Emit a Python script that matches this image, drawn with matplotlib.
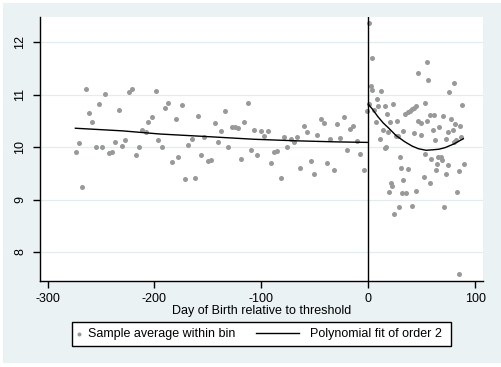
import numpy as np
import matplotlib.pyplot as plt
from matplotlib.patches import Rectangle

plt.rcParams['font.family'] = ['Liberation Sans', 'DejaVu Sans']
plt.rcParams['axes.unicode_minus'] = False

# bin averages, left of the threshold
left_x = [-273.7, -270.6, -267.5, -264.4, -261.3, -258.2, -255.0, -251.9, -249.4, -246.3,
          -242.3, -240.0, -236.7, -233.2, -230.1, -227.3, -223.9, -220.8, -217.6, -214.5,
          -212.0, -208.2, -205.8, -202.6, -198.9, -196.4, -193.0, -190.2, -187.1, -183.9,
          -180.2, -177.7, -174.6, -171.5, -168.9, -165.2, -162.1, -159.0, -156.2, -153.4,
          -149.7, -147.4, -143.4, -140.9, -137.5, -134.3, -131.5, -127.8, -124.7, -122.2,
          -119.1, -116.0, -112.5, -109.7, -107.2, -103.8, -100.4, -97.3, -94.1, -91.3,
          -88.2, -85.1, -81.9, -78.6, -75.8, -72.6, -69.8, -67.0, -63.6, -60.1,
          -57.1, -53.9, -50.5, -47.7, -44.5, -41.7, -38.6, -35.5, -32.4, -29.0,
          -26.5, -23.0, -20.2, -17.1, -14.0, -10.9, -7.5, -4.0, -1.5]
left_y = [9.90, 10.07, 9.24, 11.11, 10.65, 10.48, 10.00, 10.82, 10.01, 11.01,
          9.88, 9.91, 10.09, 10.71, 10.03, 10.14, 11.06, 11.11, 9.85, 10.00,
          10.33, 10.29, 10.47, 10.58, 11.07, 10.14, 10.01, 10.74, 10.85, 9.71,
          10.53, 9.81, 10.80, 9.40, 10.05, 10.16, 9.41, 10.60, 9.85, 10.20,
          9.74, 9.76, 10.46, 10.09, 10.30, 10.68, 10.00, 10.39, 10.39, 10.37,
          9.77, 10.47, 10.84, 9.95, 10.32, 9.85, 10.31, 10.22, 10.30, 9.70,
          9.90, 9.93, 9.41, 10.20, 10.00, 10.16, 10.10, 10.19, 9.61, 10.40,
          10.28, 9.74, 9.49, 10.24, 10.53, 10.46, 9.70, 10.16, 9.57, 10.44,
          10.18, 10.57, 9.95, 10.35, 10.41, 10.12, 9.87, 9.57, 10.69]

# bin averages, right of the threshold
right_x = [0.4, 0.9, 2.2, 3.2, 3.7, 5.3, 7.2, 8.4, 9.4, 10.7,
           11.9, 13.8, 15.2, 15.6, 16.5, 17.2, 18.1, 19.1, 20.3, 21.7,
           22.3, 22.8, 24.0, 26.0, 26.6, 28.1, 28.4, 29.6, 30.3, 31.2,
           32.2, 32.7, 34.6, 35.0, 36.9, 36.9, 39.0, 40.6, 40.9, 42.8,
           43.0, 44.3, 44.9, 46.2, 46.8, 49.3, 49.3, 51.8, 52.8, 53.3,
           54.6, 54.6, 56.1, 57.4, 57.7, 59.0, 60.6, 61.2, 62.7, 63.6,
           64.3, 64.9, 66.1, 68.0, 69.2, 70.2, 70.4, 72.4, 73.0, 74.6,
           74.3, 75.8, 77.6, 79.0, 80.5, 80.9, 80.2, 81.8, 83.4, 84.4,
           84.8, 86.1, 86.7, 87.9, 89.2]
right_y = [12.36, 10.83, 11.17, 11.69, 11.09, 10.71, 10.47, 10.92, 10.79, 10.16,
           11.07, 10.33, 9.98, 10.78, 10.00, 10.63, 10.28, 9.14, 10.47, 9.31,
           9.26, 10.82, 8.72, 10.22, 10.49, 10.21, 8.85, 9.82, 9.60, 9.13,
           10.31, 9.37, 10.64, 9.13, 9.58, 10.67, 10.69, 8.88, 10.72, 10.75,
           10.27, 9.16, 10.79, 10.49, 11.41, 10.46, 10.24, 9.43, 9.87, 10.84,
           11.63, 10.49, 11.28, 9.32, 10.62, 9.77, 10.33, 10.62, 10.14, 9.56,
           9.67, 9.82, 10.39, 9.81, 9.76, 10.60, 8.85, 10.15, 9.48, 9.66,
           10.29, 11.05, 10.54, 10.32, 11.22, 10.44, 10.09, 10.14, 9.14, 7.59,
           9.55, 10.41, 10.19, 10.81, 9.68]

# fitted curves
fit_left_x = [-274, -230, -195, -150, -107, -67, -30, -1]
fit_left_y = [10.36, 10.31, 10.25, 10.20, 10.15, 10.12, 10.10, 10.09]
fit_right_x = [0, 4, 9, 14, 18.7, 26, 34.3, 41, 46.8, 54, 60.8, 66, 71.8, 80, 88.9]
fit_right_y = [10.82, 10.72, 10.58, 10.46, 10.37, 10.22, 10.10, 10.02, 9.97, 9.94,
               9.95, 9.96, 9.99, 10.06, 10.16]

W, H = 501, 367
fig = plt.figure(figsize=(W / 100, H / 100), dpi=100)
fig.patch.set_facecolor('white')
bg = Rectangle((3 / W, 1 - 363 / H), 498 / W, 360 / H, transform=fig.transFigure,
               facecolor='#eaf2f3', edgecolor='none', zorder=-10)
fig.add_artist(bg)

ax = fig.add_axes([40 / W, 1 - 281 / H, 443 / W, 264.5 / H])
ax.set_zorder(1)
ax.set_facecolor('white')

pts_color = '#999999'
pts = ax.scatter(left_x + right_x, left_y + right_y, s=13, color=pts_color, linewidths=0,
                 zorder=3, label='Sample average within bin')
fit_line, = ax.plot(fit_left_x, fit_left_y, color='black', lw=1.0, zorder=4,
                    label='Polynomial fit of order 2')
ax.plot(fit_right_x, fit_right_y, color='black', lw=1.0, zorder=4)
ax.axvline(0, color='black', lw=1.0, zorder=4)

ax.set_xlim(-307.1, 107.3)
ax.set_ylim(7.448, 12.49)
ax.set_xticks([-300, -200, -100, 0, 100])
ax.set_yticks([8, 9, 10, 11, 12])
ax.yaxis.grid(True, color='#e3ecee', lw=0.9)
ax.set_axisbelow(True)

for s in ['top', 'right']:
    ax.spines[s].set_visible(False)
for s in ['left', 'bottom']:
    ax.spines[s].set_linewidth(1.0)

ax.tick_params(axis='both', direction='out', length=5, width=1.0, labelsize=9, color='black')
ax.tick_params(axis='x', pad=4)
ax.tick_params(axis='y', pad=5)
for lab in ax.get_yticklabels():
    lab.set_rotation(90)
    lab.set_va('center')

ax.set_xlabel('Day of Birth relative to threshold', fontsize=9)
ax.xaxis.set_label_coords(0.5, -0.09)
ax.xaxis.label.set_va('top')

# legend: one frame, two entries with their own handle widths
ly = 1 - 334 / H
frame = Rectangle((72 / W, 1 - 346 / H), 379 / W, 24 / H, transform=fig.transFigure,
                  facecolor='white', edgecolor='black', lw=1.0, zorder=2)
fig.add_artist(frame)
leg1 = fig.legend([pts], ['Sample average within bin'], loc='center left',
                  bbox_to_anchor=(72 / W, ly), fontsize=9, frameon=False,
                  borderpad=0.3, borderaxespad=0, handlelength=0.52, handletextpad=0.46,
                  markerscale=0.8, scatterpoints=1)
leg2 = fig.legend([fit_line], ['Polynomial fit of order 2'], loc='center left',
                  bbox_to_anchor=(252.2 / W, ly), fontsize=9, frameon=False,
                  borderpad=0.3, borderaxespad=0, handlelength=3.44, handletextpad=0.88)
leg1.set_zorder(3)
leg2.set_zorder(3)

fig.savefig('out.png', dpi=100, facecolor=fig.get_facecolor())
